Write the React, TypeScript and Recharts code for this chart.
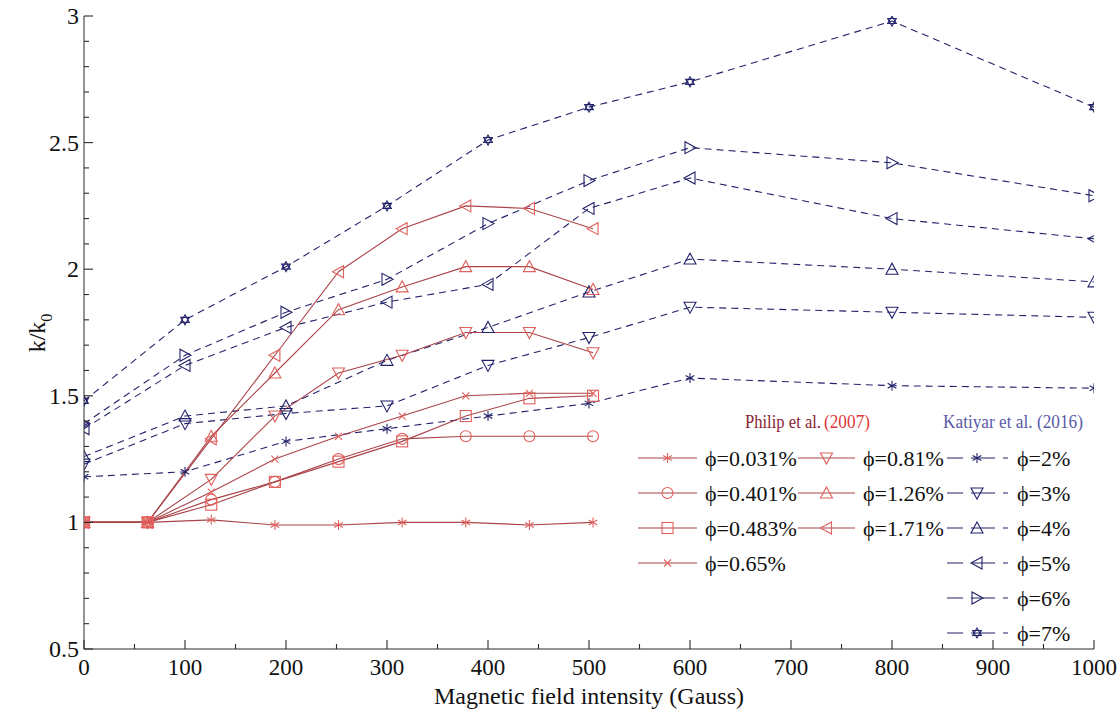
import { LineChart, Line, XAxis, YAxis } from "recharts";

// Philip et al. (2007) - field values (Gauss) and k/k0
const philipX = [0, 63, 126, 189, 252, 315, 378, 441, 504];
const philip0031 = [1.0, 1.0, 1.01, 0.99, 0.99, 1.0, 1.0, 0.99, 1.0];
const philip0401 = [1.0, 1.0, 1.09, 1.16, 1.25, 1.33, 1.34, 1.34, 1.34];
const philip0483 = [1.0, 1.0, 1.07, 1.16, 1.24, 1.32, 1.42, 1.49, 1.5];
const philip065 = [1.0, 1.0, 1.12, 1.25, 1.34, 1.42, 1.5, 1.51, 1.51];
const philip081 = [1.0, 1.0, 1.17, 1.42, 1.59, 1.66, 1.75, 1.75, 1.67];
const philip126 = [1.0, 1.0, 1.34, 1.59, 1.84, 1.93, 2.01, 2.01, 1.92];
const philip171 = [1.0, 1.0, 1.33, 1.66, 1.99, 2.16, 2.25, 2.24, 2.16];

// Katiyar et al. (2016)
const katiyarX = [0, 100, 200, 300, 400, 500, 600, 800, 1000];
const katiyar2 = [1.18, 1.2, 1.32, 1.37, 1.42, 1.47, 1.57, 1.54, 1.53];
const katiyar3 = [1.23, 1.39, 1.43, 1.46, 1.62, 1.73, 1.85, 1.83, 1.81];
const katiyar4 = [1.26, 1.42, 1.46, 1.64, 1.77, 1.91, 2.04, 2.0, 1.95];
const katiyar5 = [1.37, 1.62, 1.77, 1.87, 1.94, 2.24, 2.36, 2.2, 2.12];
const katiyar6 = [1.39, 1.66, 1.83, 1.96, 2.18, 2.35, 2.48, 2.42, 2.29];
const katiyar7 = [1.48, 1.8, 2.01, 2.25, 2.51, 2.64, 2.74, 2.98, 2.64];

const xTicks = [0, 50, 100, 150, 200, 250, 300, 350, 400, 450, 500, 550, 600, 650, 700, 750, 800, 850, 900, 950, 1000];
const yTicks = [0.5, 0.6, 0.7, 0.8, 0.9, 1, 1.1, 1.2, 1.3, 1.4, 1.5, 1.6, 1.7, 1.8, 1.9, 2, 2.1, 2.2, 2.3, 2.4, 2.5, 2.6, 2.7, 2.8, 2.9, 3];

const SERIF = "Liberation Serif, Times New Roman, DejaVu Serif, serif";
const AXIS = "#2a2a2a";
const RED_LINE = "#aa4448";
const RED_MARK = "#e0605c";
const BLUE = "#22226a";
const DASH = "7 5";

const philipSeries = [
  { name: "ϕ=0.031%", values: philip0031, shape: "asterisk" },
  { name: "ϕ=0.401%", values: philip0401, shape: "circle" },
  { name: "ϕ=0.483%", values: philip0483, shape: "square" },
  { name: "ϕ=0.65%", values: philip065, shape: "cross" },
  { name: "ϕ=0.81%", values: philip081, shape: "tdown" },
  { name: "ϕ=1.26%", values: philip126, shape: "tup" },
  { name: "ϕ=1.71%", values: philip171, shape: "tleft" },
];

const katiyarSeries = [
  { name: "ϕ=2%", values: katiyar2, shape: "asterisk" },
  { name: "ϕ=3%", values: katiyar3, shape: "tdown" },
  { name: "ϕ=4%", values: katiyar4, shape: "tup" },
  { name: "ϕ=5%", values: katiyar5, shape: "tleft" },
  { name: "ϕ=6%", values: katiyar6, shape: "tright" },
  { name: "ϕ=7%", values: katiyar7, shape: "star6" },
];

function Marker({ cx, cy, shape, color }: { cx: number; cy: number; shape: string; color: string }) {
  if (cx == null || cy == null) return null;
  const common = { stroke: color, strokeWidth: 1.1, fill: "none" };
  switch (shape) {
    case "asterisk": {
      const r = 5;
      const arms = [90, 30, 150].map((a) => {
        const dx = r * Math.cos((a * Math.PI) / 180);
        const dy = r * Math.sin((a * Math.PI) / 180);
        return <line key={a} x1={cx - dx} y1={cy - dy} x2={cx + dx} y2={cy + dy} {...common} />;
      });
      return <g>{arms}</g>;
    }
    case "circle":
      return <circle cx={cx} cy={cy} r={5.5} {...common} />;
    case "square":
      return <rect x={cx - 5.5} y={cy - 5.5} width={11} height={11} {...common} />;
    case "cross":
      return (
        <g>
          <line x1={cx - 3.5} y1={cy - 3.5} x2={cx + 3.5} y2={cy + 3.5} {...common} />
          <line x1={cx - 3.5} y1={cy + 3.5} x2={cx + 3.5} y2={cy - 3.5} {...common} />
        </g>
      );
    case "tdown":
      return <polygon points={`${cx - 6},${cy - 5} ${cx + 6},${cy - 5} ${cx},${cy + 6}`} {...common} />;
    case "tup":
      return <polygon points={`${cx - 6},${cy + 5} ${cx + 6},${cy + 5} ${cx},${cy - 6}`} {...common} />;
    case "tleft":
      return <polygon points={`${cx + 5},${cy - 6} ${cx + 5},${cy + 6} ${cx - 6},${cy}`} {...common} />;
    case "tright":
      return <polygon points={`${cx - 5},${cy - 6} ${cx - 5},${cy + 6} ${cx + 6},${cy}`} {...common} />;
    case "star6": {
      const r = 5;
      const tri = (off: number) =>
        [0, 120, 240]
          .map((a) => {
            const t = ((a + off - 90) * Math.PI) / 180;
            return `${cx + r * Math.cos(t)},${cy + r * Math.sin(t)}`;
          })
          .join(" ");
      return (
        <g>
          <polygon points={tri(0)} {...common} />
          <polygon points={tri(60)} {...common} />
        </g>
      );
    }
    default:
      return null;
  }
}

const isMajorX = (v: number) => v % 100 === 0;
const isMajorY = (v: number) => Math.abs(v * 2 - Math.round(v * 2)) < 1e-6;

function BottomTick(props: any) {
  const { x, y, payload } = props;
  const major = isMajorX(payload.value);
  return (
    <g>
      <line x1={x} x2={x} y1={y} y2={y - (major ? 9 : 5)} stroke={AXIS} strokeWidth={1.1} />
      {major && (
        <text x={x} y={y + 26} textAnchor="middle" style={{ fontFamily: SERIF, fontSize: 23 }} fill="#111">
          {payload.value}
        </text>
      )}
    </g>
  );
}

function TopTick(props: any) {
  const { x, y, payload } = props;
  const major = isMajorX(payload.value);
  return <line x1={x} x2={x} y1={y} y2={y + (major ? 9 : 5)} stroke={AXIS} strokeWidth={1.1} />;
}

function LeftTick(props: any) {
  const { x, y, payload } = props;
  const major = isMajorY(payload.value);
  return (
    <g>
      <line x1={x} x2={x + (major ? 9 : 5)} y1={y} y2={y} stroke={AXIS} strokeWidth={1.1} />
      {major && (
        <text x={x - 5} y={y + 8} textAnchor="end" style={{ fontFamily: SERIF, fontSize: 24 }} fill="#111">
          {String(Math.round(payload.value * 10) / 10)}
        </text>
      )}
    </g>
  );
}

function RightTick(props: any) {
  const { x, y, payload } = props;
  const major = isMajorY(payload.value);
  return <line x1={x} x2={x - (major ? 9 : 5)} y1={y} y2={y} stroke={AXIS} strokeWidth={1.1} />;
}

function YTitle() {
  return (
    <text transform="translate(45,333) rotate(-90)" textAnchor="middle" style={{ fontFamily: SERIF, fontSize: 24 }} fill="#111">
      k/k
      <tspan style={{ fontSize: 16 }} dy={7}>
        0
      </tspan>
    </text>
  );
}

function LegendOverlay() {
  const rows = [458, 493, 528, 563, 598, 633];
  const cols = [
    { x1: 638, x2: 697, tx: 705 },
    { x1: 798, x2: 855, tx: 863 },
  ];
  const txt = { fontFamily: SERIF, fontSize: 22 };
  return (
    <svg width={1120} height={718} style={{ position: "absolute", left: 0, top: 0, pointerEvents: "none" }}>
      <text x={745} y={428} style={{ fontFamily: SERIF, fontSize: 18 }} fill="#8a2435" textLength={76} lengthAdjust="spacingAndGlyphs">
        Philip et al.
      </text>
      <text x={824} y={428} style={{ fontFamily: SERIF, fontSize: 19 }} fill="#e03838" textLength={46} lengthAdjust="spacingAndGlyphs">
        (2007)
      </text>
      <text x={943} y={428} style={{ fontFamily: SERIF, fontSize: 19 }} fill="#5a5aa8" textLength={140} lengthAdjust="spacingAndGlyphs">
        Katiyar et al. (2016)
      </text>
      {philipSeries.map((s, i) => {
        const col = cols[i < 4 ? 0 : 1];
        const y = rows[i < 4 ? i : i - 4];
        const mid = (col.x1 + col.x2) / 2;
        return (
          <g key={s.name}>
            <line x1={col.x1} x2={col.x2} y1={y} y2={y} stroke={RED_LINE} strokeWidth={1.1} />
            <Marker cx={mid} cy={y} shape={s.shape} color={RED_MARK} />
            <text x={col.tx} y={y + 8} style={txt} fill="#111">
              {s.name}
            </text>
          </g>
        );
      })}
      {katiyarSeries.map((s, i) => {
        const y = rows[i];
        return (
          <g key={s.name}>
            <line x1={947} x2={1008} y1={y} y2={y} stroke={BLUE} strokeWidth={1.1} strokeDasharray="16 8 24 8" />
            <Marker cx={977} cy={y} shape={s.shape} color={BLUE} />
            <text x={1017} y={y + 8} style={txt} fill="#111">
              {s.name}
            </text>
          </g>
        );
      })}
    </svg>
  );
}

export default function App() {
  const blueLines = katiyarSeries.map((s) => ({
    ...s,
    data: katiyarX.map((x, i) => ({ x, y: s.values[i] })),
  }));
  const redLines = philipSeries.map((s) => ({
    ...s,
    data: philipX.map((x, i) => ({ x, y: s.values[i] })),
  }));

  return (
    <div style={{ position: "absolute", left: 0, top: 0, width: 1120, height: 718, background: "#fff", fontFamily: SERIF }}>
      <LineChart width={1120} height={718} margin={{ top: 16, right: 26, bottom: 0, left: 24 }}>
        <XAxis
          xAxisId="b"
          dataKey="x"
          type="number"
          domain={[0, 1000]}
          ticks={xTicks}
          interval={0}
          height={69}
          tickSize={0}
          tickMargin={0}
          tickLine={false}
          tick={<BottomTick />}
          stroke={AXIS}
          allowDataOverflow
          label={{
            value: "Magnetic field intensity (Gauss)",
            position: "insideBottom",
            offset: 14,
            style: { fontFamily: SERIF, fontSize: 24, fill: "#111" },
          }}
        />
        <XAxis
          xAxisId="t"
          orientation="top"
          dataKey="x"
          type="number"
          domain={[0, 1000]}
          ticks={xTicks}
          interval={0}
          height={0}
          tickSize={0}
          tickMargin={0}
          tickLine={false}
          tick={<TopTick />}
          stroke={AXIS}
          allowDataOverflow
        />
        <YAxis
          yAxisId="l"
          type="number"
          domain={[0.5, 3]}
          ticks={yTicks}
          interval={0}
          width={60}
          tickSize={0}
          tickMargin={0}
          tickLine={false}
          tick={<LeftTick />}
          stroke={AXIS}
          allowDataOverflow
          label={<YTitle />}
        />
        <YAxis
          yAxisId="r"
          orientation="right"
          type="number"
          domain={[0.5, 3]}
          ticks={yTicks}
          interval={0}
          width={0}
          tickSize={0}
          tickMargin={0}
          tickLine={false}
          tick={<RightTick />}
          stroke={AXIS}
          allowDataOverflow
        />
        {blueLines.map((s) => (
          <Line
            key={`k-${s.name}`}
            name={s.name}
            xAxisId="b"
            yAxisId="l"
            data={s.data}
            dataKey="y"
            type="linear"
            stroke={BLUE}
            strokeWidth={1.1}
            strokeDasharray={DASH}
            dot={(p: any) => <Marker key={`k-${s.name}-${p.index}`} cx={p.cx} cy={p.cy} shape={s.shape} color={BLUE} />}
            activeDot={false}
            isAnimationActive={false}
          />
        ))}
        {redLines.map((s) => (
          <Line
            key={`p-${s.name}`}
            name={s.name}
            xAxisId="b"
            yAxisId="l"
            data={s.data}
            dataKey="y"
            type="linear"
            stroke={RED_LINE}
            strokeWidth={1.1}
            dot={(p: any) => <Marker key={`p-${s.name}-${p.index}`} cx={p.cx} cy={p.cy} shape={s.shape} color={RED_MARK} />}
            activeDot={false}
            isAnimationActive={false}
          />
        ))}
      </LineChart>
      <LegendOverlay />
    </div>
  );
}
